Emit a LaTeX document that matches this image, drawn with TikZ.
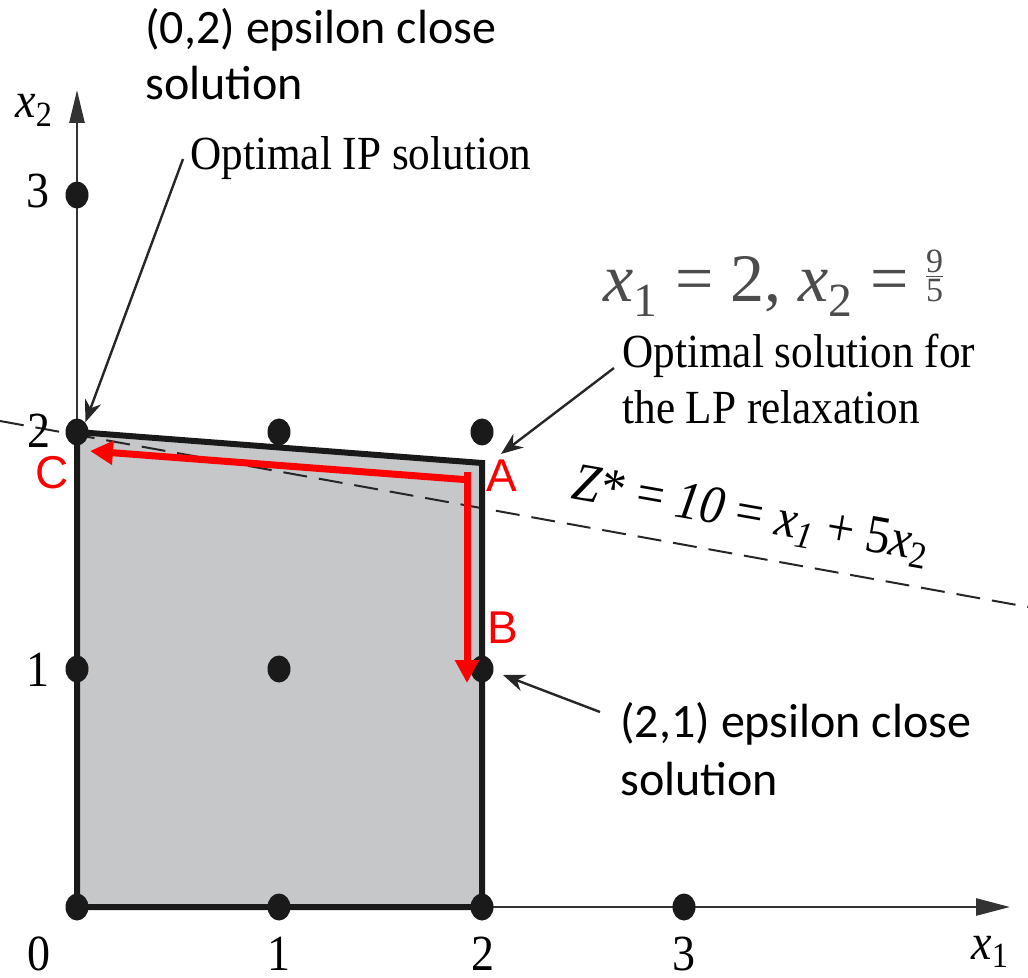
\documentclass[tikz,border=0pt]{standalone}
\usepackage{fontspec}
\usepackage{amsmath}
\setmainfont{Liberation Serif}
\newfontfamily\carlito{Carlito}
\newfontfamily\arialf{Liberation Sans}
\usetikzlibrary{arrows.meta,shapes.geometric}
\definecolor{regionfill}{HTML}{C6C7C9}
\definecolor{dotcol}{HTML}{1A1A1A}
\newcommand{\vs}[1]{\scalebox{1}[1.1]{#1}}
\newcommand{\xs}[1]{\textit{x}\textsubscript{#1}}
\newcommand{\smallfrac}[2]{{\fontsize{17}{17}\selectfont\vbox{\offinterlineskip\halign{\hfil##\hfil\cr #1\cr\noalign{\kern1.2pt\hrule height 0.9pt\kern1.2pt}#2\cr}}}}
\begin{document}
\begin{tikzpicture}[x=0.5pt,y=-0.5pt,
  dot/.style={ellipse, fill=dotcol, minimum width=11.5pt, minimum height=13.5pt, inner sep=0pt},
  axisline/.style={draw=black!80, line width=1.3pt},
  edgeline/.style={draw=black!90, line width=3pt, line join=miter},
  zline/.style={draw=black!85, line width=1pt, dash pattern=on 12pt off 6pt},
  ann/.style={draw=black!85, line width=1.2pt, -{Stealth[length=11pt,width=8.5pt]}},
  redarrow/.style={draw=red, line width=3.5pt, -{Triangle[length=11.5pt,width=11.5pt]}},
  ticklab/.style={inner sep=0pt, font=\fontsize{23}{27}\selectfont},
  serif/.style={inner sep=0pt, font=\fontsize{21.6}{26}\selectfont},
  sanslab/.style={inner sep=0pt, font=\carlito\fontsize{24}{29}\selectfont},
  redlab/.style={inner sep=0pt, text=red, font=\arialf\fontsize{23}{27}\selectfont}]
\useasboundingbox (0,0) rectangle (1028,978);

% key points
\coordinate (O) at (77,907);
\coordinate (X2) at (482,907);
\coordinate (LP) at (482,463);
\coordinate (Y2) at (77,432);
\coordinate (xtip) at (1010,907);
\coordinate (ytip) at (77,90);
\coordinate (dl) at (0,421);
\coordinate (dr) at (1028,607);

% feasible region
\fill[regionfill] (O) -- (X2) -- (LP) -- (Y2) -- cycle;

% objective line
\draw[zline] (dl) -- (dr);

% axes
\draw[axisline, -{Triangle[length=17pt,width=8.5pt]}] (O) -- (xtip);
\draw[axisline, -{Triangle[length=16.5pt,width=7.5pt]}] (O) -- (ytip);

% region border
\draw[edgeline] (Y2) -- (LP) -- (X2) -- (O) -- cycle;

% lattice points
\node[dot] (p00) at (77,907) {};
\node[dot] (p10) at (279,907) {};
\node[dot] (p20) at (482,907) {};
\node[dot] (p30) at (684,907) {};
\node[dot] (p01) at (77,669) {};
\node[dot] (p11) at (279,669) {};
\node[dot] (p21) at (482,669) {};
\node[dot] (p02) at (77,432) {};
\node[dot] (p12) at (279,432) {};
\node[dot] (p22) at (482,432) {};
\node[dot] (p03) at (77,195) {};

% tick labels
\node[ticklab, anchor=base] (t0) at (39,970) {\vs{0}};
\node[ticklab, anchor=base] (t1) at (279,970) {\vs{1}};
\node[ticklab, anchor=base] (t2) at (483,970) {\vs{2}};
\node[ticklab, anchor=base] (t3) at (684,970) {\vs{3}};
\node[ticklab, anchor=base west] (lx1) at (971,959) {\vs{\xs{1}}};
\node[ticklab, anchor=base east] (s1) at (50,686) {\vs{1}};
\node[ticklab, anchor=base east] (s2) at (51,448) {\vs{2}};
\node[ticklab, anchor=base east] (s3) at (50,208) {\vs{3}};
\node[ticklab, anchor=base west] (lx2) at (15,118) {\vs{\xs{2}}};

% serif annotations
\node[serif, anchor=base west] (ipl) at (190,170) {\vs{Optimal IP solution}};
\node[inner sep=0pt, anchor=base west, text=black!70, font=\fontsize{34}{40}\selectfont] (lpval) at (603,302)
  {\xs{1} = 2, \xs{2} = \smallfrac{9}{5}};
\node[serif, anchor=base west] (lpa) at (622,368) {\vs{Optimal solution for}};
\node[serif, anchor=base west] (lpb) at (622,423) {\vs{the LP relaxation}};
\node[inner sep=0pt, anchor=base, rotate=-10, font=\fontsize{24.5}{29}\selectfont] (zl) at (749,530)
  {\vs{\textit{Z}* = \textit{10} = \textit{x}\textsubscript{\textit{1}} + 5\textit{x}\textsubscript{2}}};

% sans annotations
\node[sanslab, anchor=base west] (e02a) at (145,44) {(0,2) epsilon close};
\node[sanslab, anchor=base west] (e02b) at (145,100) {solution};
\node[sanslab, anchor=base west] (e21a) at (620,737) {(2,1) epsilon close};
\node[sanslab, anchor=base west] (e21b) at (620,795) {solution};

% red labels
\node[redlab] (lC) at (52,473) {C};
\node[redlab] (lA) at (502,476) {A};
\node[redlab] (lB) at (503,628) {B};

% annotation arrows
\coordinate (ips) at (183,159);
\coordinate (lps) at (614,368);
\coordinate (lptip) at (501,454);
\coordinate (e21s) at (600,712);
\coordinate (e21tip) at (503,675);
\draw[ann] (ips) -- (p02.north east);
\draw[ann] (lps) -- (lptip);
\draw[ann] (e21s) -- (e21tip);

% red moves
\coordinate (rc) at (470.5,480);
\coordinate (rs) at (467,472);
\coordinate (rh) at (90,451);
\coordinate (rv) at (467,683);
\draw[redarrow] (rc) -- (rh);
\draw[redarrow] (rs) -- (rv);
\end{tikzpicture}
\end{document}
